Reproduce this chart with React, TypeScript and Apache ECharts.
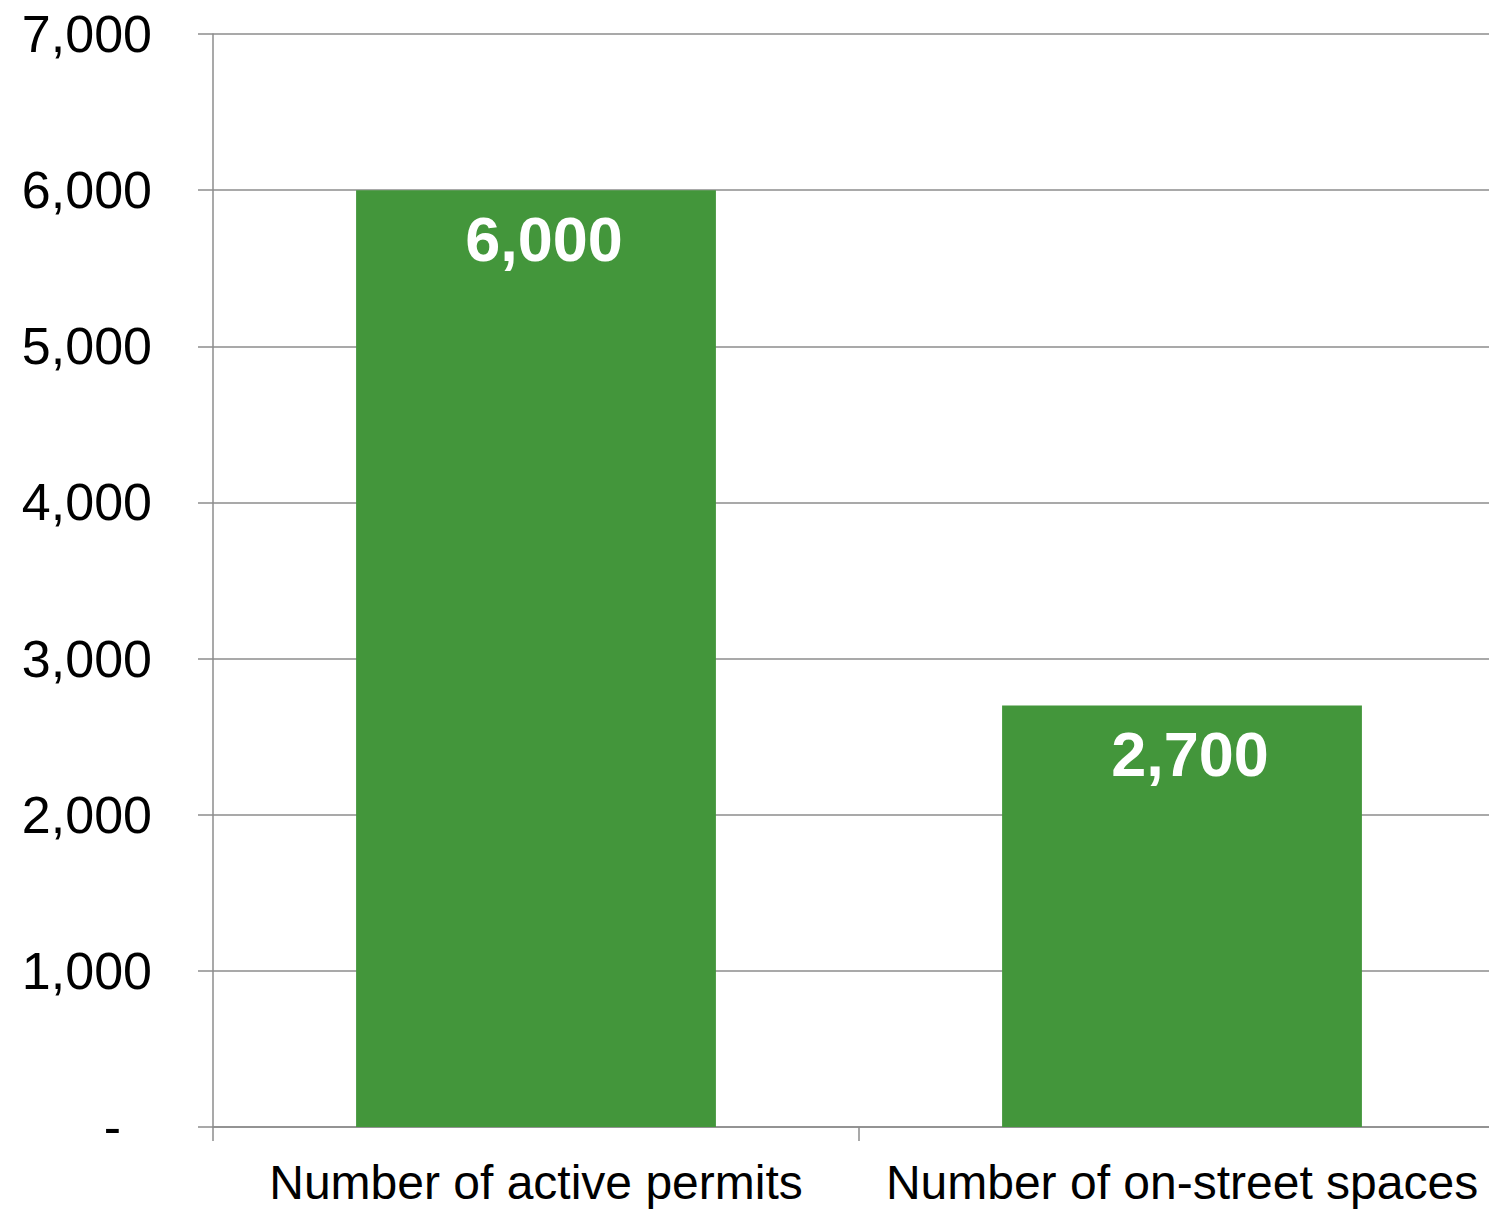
import React, { useEffect, useRef } from "react";
import * as echarts from "echarts";

const categories = ["Number of active permits", "Number of on-street spaces"];
const values = [6000, 2700];
const yMin = 0;
const yMax = 7000;
const yInterval = 1000;

const FONT = '"Liberation Sans", Arial, sans-serif';

export default function App() {
  const ref = useRef<HTMLDivElement>(null);
  useEffect(() => {
    if (!ref.current) return;
    const chart = echarts.init(ref.current, undefined, { renderer: "svg" });
    chart.setOption({
      animation: false,
      backgroundColor: "#ffffff",
      grid: { left: 213, top: 34, bottom: 83, right: 0, containLabel: false },
      xAxis: {
        type: "category",
        data: categories,
        boundaryGap: true,
        axisLine: { show: true, lineStyle: { color: "#8c8c8c", width: 1.5 } },
        axisTick: { show: true, length: 14, lineStyle: { color: "#8c8c8c", width: 1.5 } },
        axisLabel: {
          color: "#000000",
          fontFamily: FONT,
          fontSize: 48,
          margin: 31,
          interval: 0,
        },
      },
      yAxis: {
        type: "value",
        min: yMin,
        max: yMax,
        interval: yInterval,
        axisLine: { show: true, lineStyle: { color: "#8c8c8c", width: 1.5 } },
        axisTick: { show: true, length: 15, lineStyle: { color: "#8c8c8c", width: 1.5 } },
        splitLine: { show: true, lineStyle: { color: "#8c8c8c", width: 1.5 } },
        axisLabel: {
          color: "#000000",
          fontFamily: FONT,
          fontSize: 52,
          margin: 61,
          formatter: (v: number) => (v === 0 ? "{z|-}" : v.toLocaleString("en-US")),
          rich: {
            z: { fontFamily: FONT, fontSize: 52, color: "#000000", padding: [0, 31, 0, 0] },
          },
        },
      },
      series: [
        {
          type: "bar",
          data: values,
          barWidth: "55.7%",
          itemStyle: { color: "#43963b" },
          label: {
            show: true,
            position: "insideTop",
            distance: 17,
            offset: [8, 0],
            color: "#ffffff",
            fontFamily: FONT,
            fontWeight: "bold",
            fontSize: 63,
            formatter: (p: any) => Number(p.value).toLocaleString("en-US"),
          },
        },
      ],
    });
    return () => chart.dispose();
  }, []);
  return (
    <div style={{ position: "fixed", left: 0, top: 0, width: 1489, height: 1210, overflow: "hidden" }}>
      <div ref={ref} style={{ width: 1505, height: 1210 }} />
    </div>
  );
}
